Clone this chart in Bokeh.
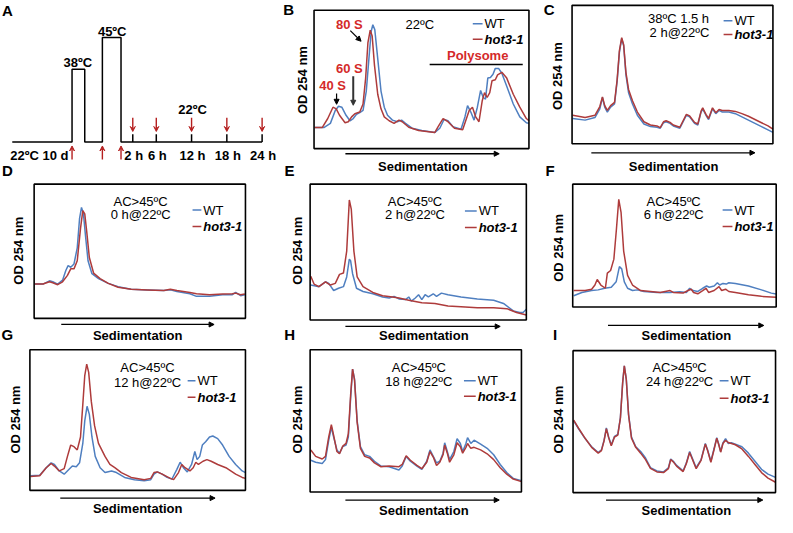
import math
from bokeh.plotting import figure
from bokeh.layouts import column, row
from bokeh.models import Range1d, Arrow, NormalHead, VeeHead
from bokeh.core.properties import value
from bokeh.embed import file_html
from bokeh.resources import INLINE

FONT = "Liberation Sans"
BLUE = "#4F7FC0"
RED = "#AE3B3B"
LABEL_RED = "#D42A2A"
ARROW_RED = "#B51F1F"

# ---------------- data ----------------
# Panel A: schematic treatment time line (display hours vs temperature)
A_step_t = [-18.5, -8.33, -8.33, -6.17, -6.17, -3.17, -3.17, 0, 0, 24]
A_step_temp = [22, 22, 38, 38, 22, 22, 45, 45, 22, 22]
A_sample_h = [2, 6, 12, 18, 24]
A_sample_labels = ["2 h", "6 h", "12 h", "18 h", "24 h"]
A_shift_t = [-8.33, -3.17, 0]

# Polysome profiles: gradient position (a.u.) vs OD 254 nm (a.u.)
B_wt_x = [2,30,50,65,75,85,98,110,120,130,140,150,160,168,175,180,186,195,205,215,225,240,255,268,280,300,330,370,385,398,410,425,450,462,470,480,490,500,510,518,525,532,540,548,555,565,575,590,610,630,650,658]
B_wt_y = [65,65,78,118,131,128,103,86,93,106,111,118,178,278,363,383,368,278,178,128,103,88,83,88,78,63,56,50,63,90,86,68,60,98,133,113,88,128,180,158,153,218,220,230,248,248,233,193,138,98,80,78]
B_hot_x = [2,25,42,58,68,78,95,105,115,125,140,150,158,165,172,178,185,195,205,215,230,245,260,270,290,320,370,380,395,410,430,455,475,485,495,505,515,522,530,538,545,555,562,575,590,610,630,650,658]
B_hot_y = [65,65,93,128,123,103,80,83,98,108,113,138,218,328,366,348,258,168,123,98,86,78,88,83,66,56,50,68,93,83,63,58,118,128,98,83,148,173,158,173,210,213,228,236,218,168,128,93,86]

C_x = [2,40,70,85,93,100,108,118,130,138,145,152,158,165,173,185,200,220,240,260,270,280,288,300,310,330,340,350,360,375,385,395,400,410,418,430,440,450,460,480,500,520,540,560,580,600,615]
C_wt_y = [78,73,81,108,143,113,98,113,123,193,283,325,303,213,158,123,88,61,53,51,48,65,68,63,55,48,68,88,83,63,58,98,108,88,75,108,93,103,98,98,93,83,73,63,53,43,35]
C_hot_y = [88,81,88,115,145,118,103,118,128,198,288,328,306,220,168,133,98,68,58,55,50,68,71,66,58,51,71,91,86,66,61,101,111,91,78,111,96,106,103,103,100,93,85,75,65,55,45]

D_wt_x = [2,27,47,57,72,87,97,104,112,122,132,139,145,151,157,165,177,197,227,257,297,347,397,417,437,477,497,537,577,607,617,632,645]
D_wt_y = [106,106,116,113,106,118,148,163,158,168,218,308,343,323,258,178,138,123,108,98,90,88,86,88,83,76,68,68,73,73,80,70,73]
D_hot_x = [2,27,47,57,72,87,102,112,122,132,142,149,155,161,169,182,202,227,257,297,347,397,417,437,477,497,537,577,607,617,632,645]
D_hot_y = [106,106,113,110,104,113,133,153,153,178,278,333,323,268,188,140,123,108,96,90,88,86,90,86,80,76,73,75,76,78,73,75]

E_wt_x = [2,27,47,57,72,87,102,112,120,124,130,142,162,192,222,242,257,272,292,302,310,322,332,342,352,362,377,387,402,422,462,512,562,592,622,642,652,662]
E_wt_y = [108,103,118,113,91,98,103,133,188,183,143,98,88,81,71,68,73,65,63,71,58,68,78,63,78,71,81,73,83,78,71,65,61,51,28,23,23,33]
E_hot_x = [2,12,27,47,62,77,90,102,112,120,126,134,144,162,192,222,252,272,302,342,382,422,462,512,562,602,632,662]
E_hot_y = [135,111,103,118,108,113,141,145,213,371,343,213,133,103,85,75,71,68,61,53,51,43,41,38,38,35,23,15]

F_wt_x = [3,28,58,78,98,118,133,143,150,158,168,183,198,218,258,298,328,348,358,368,383,398,410,418,433,443,450,460,470,478,498,538,578,608,623]
F_wt_y = [35,45,51,53,58,61,78,125,118,78,58,51,53,48,45,45,47,45,58,51,48,58,65,61,65,75,68,73,71,75,73,65,53,43,40]
F_hot_x = [3,38,58,68,75,86,100,106,116,126,134,141,148,156,168,183,208,238,268,298,308,338,353,363,370,383,398,408,416,433,448,456,468,478,498,538,578,608,623]
F_hot_y = [51,51,55,68,85,68,58,105,113,148,243,333,293,173,98,68,51,48,45,51,45,43,51,55,45,41,51,58,45,51,63,51,55,48,45,38,33,31,30]

G_wt_x = [2,30,50,65,75,90,105,120,130,142,152,162,168,175,182,190,200,215,230,250,265,290,320,350,370,380,390,405,420,435,450,460,470,482,495,505,512,520,528,538,550,560,575,590,610,630,650,660]
G_wt_y = [45,47,70,85,80,60,50,65,75,73,85,145,215,260,235,165,105,70,55,60,55,40,33,30,33,50,57,50,40,35,65,87,70,57,80,120,95,105,140,150,165,168,160,140,105,80,60,55]
G_hot_x = [2,30,50,65,75,90,105,115,125,135,145,155,162,168,174,180,188,198,210,230,245,260,280,310,350,370,380,390,405,430,440,455,465,475,490,500,508,516,530,542,555,575,600,630,650,660]
G_hot_y = [43,45,70,83,75,60,67,105,140,135,125,165,265,355,390,365,275,200,145,105,80,70,55,40,33,37,55,57,50,37,33,55,80,70,60,70,87,80,90,95,90,80,70,50,40,37]

H_x = [2,17,37,47,57,65,72,82,90,100,110,117,124,130,136,144,154,167,182,197,217,242,272,282,294,307,327,342,357,367,377,387,397,407,412,420,427,440,450,460,467,477,482,492,502,522,542,562,582,602,622,647]
H_wt_y = [98,92,88,100,160,200,170,130,120,140,145,170,290,380,350,220,140,115,110,95,80,78,68,80,110,95,80,70,95,130,110,90,95,120,152,125,100,125,165,150,125,150,168,150,160,148,135,115,85,60,42,35]
H_hot_y = [130,110,102,110,170,208,175,125,118,142,150,180,300,380,345,215,135,110,105,90,78,80,78,85,112,98,82,72,92,125,108,82,92,115,145,120,92,115,152,140,120,138,150,135,138,130,118,100,75,55,40,32]

I_x = [2,17,37,57,77,87,95,102,109,117,127,137,145,152,157,163,170,179,192,207,222,237,257,277,292,299,307,317,337,347,357,365,377,392,405,412,422,432,440,447,452,459,467,475,485,497,517,537,557,577,597,620]
I_wt_y = [222,197,167,142,124,132,162,200,172,147,174,180,232,342,392,352,242,172,142,127,107,77,67,64,77,104,97,84,67,92,127,107,77,102,152,132,97,137,170,147,127,154,167,152,154,150,142,122,97,72,57,47]
I_hot_y = [224,199,168,140,122,130,160,198,170,145,172,178,230,340,392,350,240,168,140,122,102,75,64,62,74,102,95,82,65,90,124,104,74,100,150,130,94,134,168,145,125,152,162,155,152,148,135,112,87,62,45,32]

SERIES_NAMES = ["WT", "hot3-1"]

# ---------------- layout geometry ----------------
SX = 777 / 793
SY = 517 / 533
COLS = [0, 287, 553, 793]
ROWS = [0, 187, 356, 533]


def geom(ci, ri):
    L = round(COLS[ci] * SX)
    R = round(COLS[ci + 1] * SX)
    T = round(ROWS[ri] * SY)
    B = round(ROWS[ri + 1] * SY)
    return L, T, R - L, B - T


class Panel:
    def __init__(self, ci, ri, fx, fy):
        self.fx, self.fy = fx, fy
        L, T, W, H = geom(ci, ri)
        self.p = figure(width=W, height=H, title=None,
                        x_range=Range1d(fx(L / SX), fx((L + W) / SX)),
                        y_range=Range1d(fy((T + H) / SY), fy(T / SY)),
                        x_axis_type=None, y_axis_type=None,
                        toolbar_location=None, output_backend="svg",
                        min_border=0, outline_line_color=None,
                        background_fill_color="white", border_fill_color="white")

    def text(self, ix, iy, s, size=13, style="normal", color="black", align="center", angle=0.0):
        self.p.text(x=[self.fx(ix)], y=[self.fy(iy)], text=[s], text_font=value(FONT),
                    text_font_size=f"{size}px", text_font_style=style, text_color=color,
                    text_align=align, text_baseline="middle", angle=angle)

    def seg(self, ix0, iy0, ix1, iy1, color="black", width=1.3):
        self.p.segment(x0=[self.fx(ix0)], y0=[self.fy(iy0)], x1=[self.fx(ix1)], y1=[self.fy(iy1)],
                       line_color=color, line_width=width)

    def arrow(self, ix0, iy0, ix1, iy1, color="black", width=1.2, size=6, vee=False):
        if vee:
            head = VeeHead(size=size, fill_color=color, line_color=color, line_width=1)
        else:
            head = NormalHead(size=size, fill_color=color, line_color=color, line_width=1)
        self.p.add_layout(Arrow(end=head, x_start=self.fx(ix0), y_start=self.fy(iy0),
                                x_end=self.fx(ix1), y_end=self.fy(iy1),
                                line_color=color, line_width=width))


# ---------------- panel A ----------------
A = Panel(0, 0, lambda ix: (ix - 123) / 6.0, lambda iy: 22 + (146 - iy) / 4.6875)
A.p.line(A_step_t, A_step_temp, line_color="black", line_width=1.5)
tick_h = 8 / 4.6875
A.p.segment(x0=A_sample_h, y0=[22] * 5, x1=A_sample_h, y1=[22 + tick_h] * 5, line_color="black", line_width=1.5)
for h in A_sample_h:
    ix = 123 + 6 * h
    A.arrow(ix, 121, ix, 135, color=ARROW_RED, width=1.4, size=5, vee=True)
for t in A_shift_t:
    ix = 123 + 6 * t
    A.arrow(ix, 164, ix, 150, color=ARROW_RED, width=1.4, size=5, vee=True)
A.text(79, 64, "38ºC", style="bold")
A.text(114, 32, "45ºC", style="bold")
A.text(196, 112, "22ºC", style="bold")
A.text(10, 160, "22ºC 10 d", style="bold", align="left")
for h, lab in zip(A_sample_h, A_sample_labels):
    A.text(123 + 6 * h + 1, 160, lab, style="bold")
A.text(7, 10, "A", size=15, style="bold")
A.text(7, 175, "D", size=15, style="bold")

# ---------------- profile panels ----------------
SPECS = {
    "B": dict(cell=(1, 0), crop=(270, 0), fl=150, fb=458, w=658, h=428,
              od=(308, 82), sed=(352, 509, 158, 431, 171), leg=(482, 492, 24, 40),
              cond=[("22ºC", 428, 25)]),
    "C": dict(cell=(2, 0), crop=(530, 0), fl=160, fb=443, w=615, h=428,
              od=(568, 78), sed=(603, 770, 157, 687, 171), leg=(738, 747, 21, 35),
              cond=[("38ºC 1.5 h", 692, 19), ("2 h@22ºC", 693, 33)]),
    "D": dict(cell=(0, 1), crop=(0, 175), fl=103, fb=458, w=647, h=415,
              od=(18, 258), sed=(62, 218, 334, 140, 345), leg=(196, 205, 216, 233),
              cond=[("AC>45ºC", 143, 207), ("0 h@22ºC", 143, 221)]),
    "E": dict(cell=(1, 1), crop=(270, 175), fl=138, fb=463, w=662, h=420,
              od=(303, 258), sed=(352, 510, 336, 432, 345), leg=(474, 486, 217, 234),
              cond=[("AC>45ºC", 423, 207), ("2 h@22ºC", 423, 221)]),
    "F": dict(cell=(2, 1), crop=(530, 175), fl=162, fb=423, w=623, h=380,
              od=(570, 255), sed=(620, 779, 335, 700, 345), leg=(737, 747, 216, 233),
              cond=[("AC>45ºC", 687, 207), ("6 h@22ºC", 687, 221)]),
    "G": dict(cell=(0, 2), crop=(0, 350), fl=90, fb=465, w=660, h=435,
              od=(15, 432), sed=(61, 219, 513, 140, 524), leg=(191, 199, 392, 409),
              cond=[("AC>45ºC", 150, 378), ("12 h@22ºC", 150, 394)]),
    "H": dict(cell=(1, 2), crop=(270, 350), fl=138, fb=470, w=647, h=440,
              od=(303, 432), sed=(352, 509, 515, 432, 526), leg=(473, 485, 392, 408),
              cond=[("AC>45ºC", 427, 378), ("18 h@22ºC", 427, 393)]),
    "I": dict(cell=(2, 2), crop=(530, 350), fl=163, fb=472, w=620, h=439,
              od=(569, 432), sed=(618, 778, 515, 700, 526), leg=(734, 743, 392, 410),
              cond=[("AC>45ºC", 693, 378), ("24 h@22ºC", 693, 393)]),
}

TRACES = {
    "B": (B_wt_x, B_wt_y, B_hot_x, B_hot_y),
    "C": (C_x, C_wt_y, C_x, C_hot_y),
    "D": (D_wt_x, D_wt_y, D_hot_x, D_hot_y),
    "E": (E_wt_x, E_wt_y, E_hot_x, E_hot_y),
    "F": (F_wt_x, F_wt_y, F_hot_x, F_hot_y),
    "G": (G_wt_x, G_wt_y, G_hot_x, G_hot_y),
    "H": (H_x, H_wt_y, H_x, H_hot_y),
    "I": (I_x, I_wt_y, I_x, I_hot_y),
}

LETTERS = {
    "B": [("B", 294, 9), ("E", 295, 175)],
    "C": [("C", 560, 9), ("F", 561, 175)],
    "D": [("G", 7, 344)],
    "E": [("H", 295, 344)],
    "F": [("I", 566, 344)],
}


def make_profile(key):
    s = SPECS[key]
    ox, oy = s["crop"]
    fl, fb = s["fl"], s["fb"]
    P = Panel(s["cell"][0], s["cell"][1],
              lambda ix: 3 * (ix - ox) - fl,
              lambda iy: fb - 3 * (iy - oy))
    wx, wy, hx, hy = TRACES[key]
    P.p.line(wx, wy, line_color=BLUE, line_width=1.5)
    P.p.line(hx, hy, line_color=RED, line_width=1.5)
    P.p.quad(left=[0], right=[s["w"]], bottom=[0], top=[s["h"]],
             fill_color=None, line_color="black", line_width=1.6)
    odx, ody = s["od"]
    P.text(odx, ody, "OD 254 nm", size=13, style="bold", angle=math.pi / 2)
    a0, a1, ay, tx, ty = s["sed"]
    P.arrow(a0, ay, a1, ay, color="black", width=1.3, size=5)
    P.text(tx, ty, "Sedimentation", size=13, style="bold")
    l0, l1, ly1, ly2 = s["leg"]
    P.seg(l0, ly1, l1, ly1, color=BLUE, width=1.5)
    P.seg(l0, ly2, l1, ly2, color=RED, width=1.5)
    P.text(l1 + 2, ly1, SERIES_NAMES[0], size=13, align="left")
    P.text(l1 + 2, ly2, SERIES_NAMES[1], size=13, style="bold italic", align="left")
    for txt, cx, cy in s["cond"]:
        P.text(cx, cy, txt, size=13)
    for let, lx, ly in LETTERS.get(key, []):
        P.text(lx, ly, let, size=15, style="bold")
    return P


panels = {k: make_profile(k) for k in SPECS}

# extra annotations for panel B
Bp = panels["B"]
Bp.text(356, 25, "80 S", style="bold", color=LABEL_RED)
Bp.text(356, 70, "60 S", style="bold", color=LABEL_RED)
Bp.text(339, 88, "40 S", style="bold", color=LABEL_RED)
Bp.arrow(357, 31, 368, 42, color="black", width=1.2, size=5)
Bp.arrow(360, 78, 360, 108, color="#333333", width=2, size=5)
Bp.arrow(343, 96, 343, 107, color="black", width=1.2, size=5)
Bp.text(487, 57, "Polysome", style="bold", color=LABEL_RED)
Bp.seg(438, 66, 533, 66, color="black", width=1.5)

layout = column(
    row(A.p, panels["B"].p, panels["C"].p),
    row(panels["D"].p, panels["E"].p, panels["F"].p),
    row(panels["G"].p, panels["H"].p, panels["I"].p),
)

open("out.html", "w").write(file_html(layout, INLINE))
